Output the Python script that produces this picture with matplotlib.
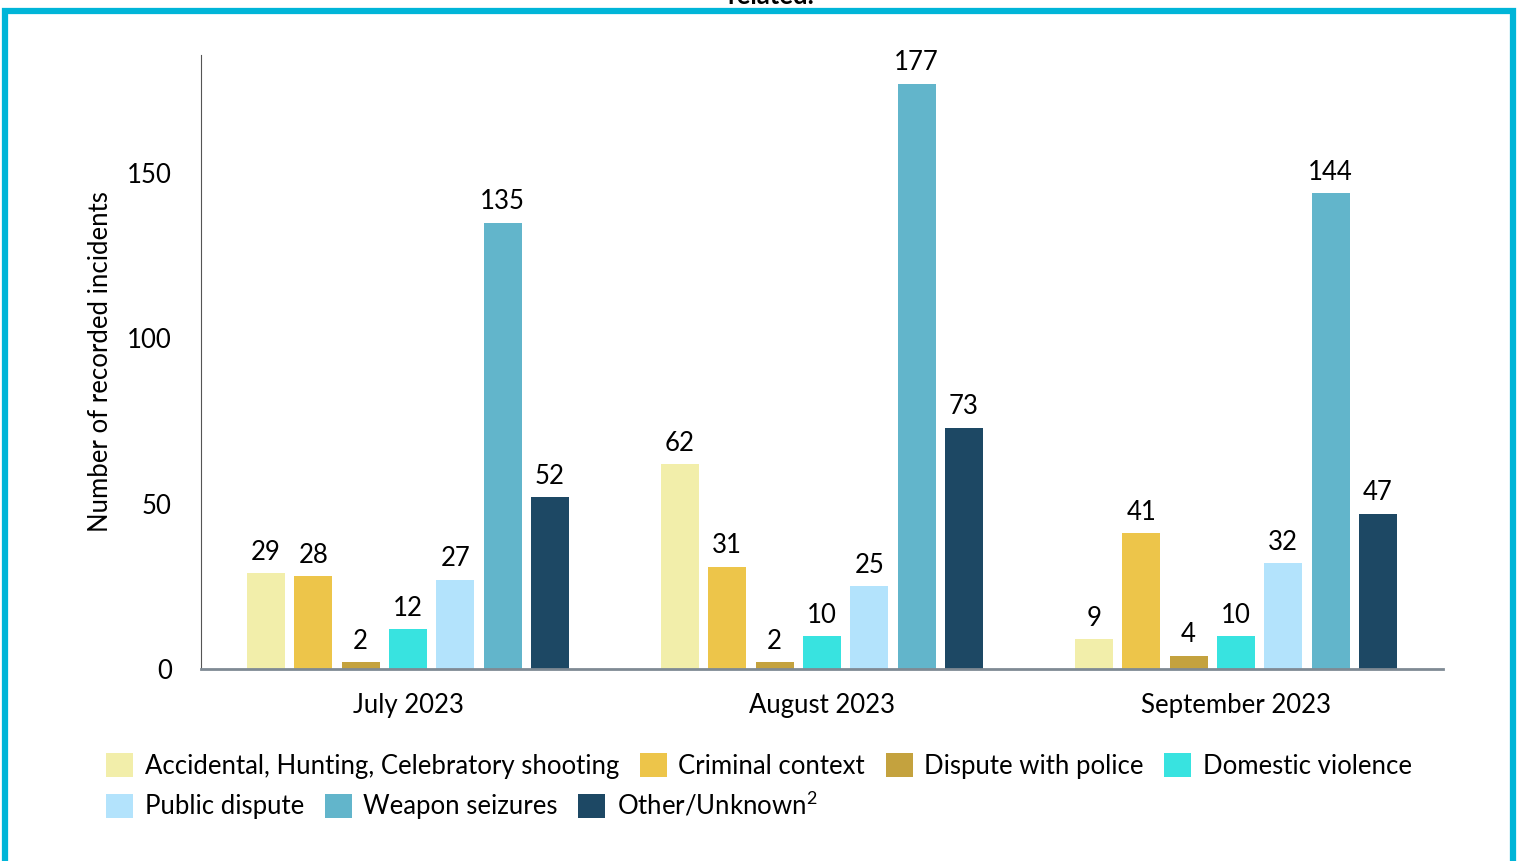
import numpy as np
import matplotlib.pyplot as plt
from matplotlib.patches import Rectangle, Patch

################################
# Data
################################
months = ['July 2023', 'August 2023', 'September 2023']
categories = ['Accidental, Hunting, Celebratory shooting', 'Criminal context',
              'Dispute with police', 'Domestic violence', 'Public dispute',
              'Weapon seizures', 'Other/Unknown$^{2}$']
accidental = [29, 62, 9]
criminal   = [28, 31, 41]
police     = [2, 2, 4]
domestic   = [12, 10, 10]
public     = [27, 25, 32]
seizures   = [135, 177, 144]
other      = [52, 73, 47]
series = [accidental, criminal, police, domestic, public, seizures, other]
colors = ['#F2EEAA', '#EDC54A', '#C4A23E', '#38E3E0', '#B3E3FC', '#62B5CB', '#1D4864']
yticks = [0, 50, 100, 150]

################################
# Plot
################################
plt.rcParams['font.family'] = ['Lato', 'DejaVu Sans']
plt.rcParams['mathtext.fontset'] = 'custom'
plt.rcParams['mathtext.rm'] = 'Lato'
plt.rcParams['mathtext.it'] = 'Lato'
fs = 18.5

fig = plt.figure(figsize=(15.2, 8.61), dpi=100)
ax = fig.add_axes([0.1322, 0.2230, 0.8171, 0.7131])

x = np.arange(len(months))
step = 0.1143
width = 0.092
for i, (vals, c) in enumerate(zip(series, colors)):
    pos = x + (i - 3) * step
    bars = ax.bar(pos, vals, width=width, color=c)
    ax.bar_label(bars, padding=6, fontsize=fs)

ax.set_xlim(-0.5, 2.5)
ax.set_ylim(0, 185.7)
ax.set_xticks(x, months, fontsize=fs)
ax.set_yticks(yticks, [str(v) for v in yticks], fontsize=fs)
ax.tick_params(axis='both', length=0)
ax.tick_params(axis='x', pad=17)
ax.tick_params(axis='y', pad=21)
ax.set_ylabel('Number of recorded incidents', fontsize=fs, labelpad=10)
for s in ['top', 'right']:
    ax.spines[s].set_visible(False)
ax.spines['left'].set_color('#555555')
ax.spines['bottom'].set_color('#7F8A94')
ax.spines['bottom'].set_linewidth(2)

handles = [Patch(facecolor=c, label=l) for c, l in zip(colors, categories)]
kw = dict(frameon=False, fontsize=fs, handlelength=1.05, handleheight=1.05,
          handletextpad=0.45, columnspacing=0.8, borderaxespad=0, borderpad=0)
leg1 = fig.legend(handles=handles[:4], ncol=4, loc='center left',
                  bbox_to_anchor=(0.070, 1 - 766/861), **kw)
leg2 = fig.legend(handles=handles[4:], ncol=3, loc='center left',
                  bbox_to_anchor=(0.070, 1 - 805/861), **kw)

# border and cut-off title
fig.patches.append(Rectangle((5/1520, -0.05), 1508/1520, 1.05 - 11/861,
                             transform=fig.transFigure, fill=False,
                             edgecolor='#00B5D8', linewidth=4.5, clip_on=False))
fig.text(0.507, 1 - 4/861, 'related.', ha='center', va='baseline',
         fontsize=fs, fontweight='bold')

fig.savefig('out.png', dpi=100)
